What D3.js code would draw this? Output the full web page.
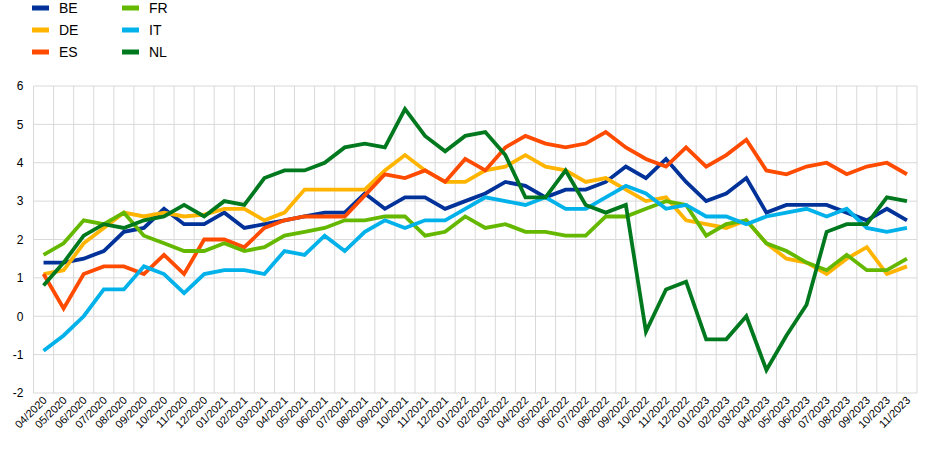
<!DOCTYPE html>
<html>
<head>
<meta charset="utf-8">
<script src="https://cdn.jsdelivr.net/npm/d3@7"></script>
<style>
html,body{margin:0;padding:0;background:#fff;}
svg{display:block;font-family:Arial,"Liberation Sans",sans-serif;}
</style>
</head>
<body>
<svg id="chart" width="943" height="449"></svg>
<script>
const months = ["04/2020","05/2020","06/2020","07/2020","08/2020","09/2020","10/2020","11/2020","12/2020",
"01/2021","02/2021","03/2021","04/2021","05/2021","06/2021","07/2021","08/2021","09/2021","10/2021","11/2021","12/2021",
"01/2022","02/2022","03/2022","04/2022","05/2022","06/2022","07/2022","08/2022","09/2022","10/2022","11/2022","12/2022",
"01/2023","02/2023","03/2023","04/2023","05/2023","06/2023","07/2023","08/2023","09/2023","10/2023","11/2023"];

const BE = [1.4,1.4,1.5,1.7,2.2,2.3,2.8,2.4,2.4,2.7,2.3,2.4,2.5,2.6,2.7,2.7,3.2,2.8,3.1,3.1,2.8,3.0,3.2,3.5,3.4,3.1,3.3,3.3,3.5,3.9,3.6,4.1,3.5,3.0,3.2,3.6,2.7,2.9,2.9,2.9,2.7,2.5,2.8,2.5];
const DE = [1.1,1.2,1.9,2.3,2.7,2.6,2.7,2.6,2.65,2.8,2.8,2.5,2.7,3.3,3.3,3.3,3.3,3.8,4.2,3.8,3.5,3.5,3.8,3.9,4.2,3.9,3.8,3.5,3.6,3.3,3.0,3.1,2.5,2.4,2.3,2.5,1.9,1.5,1.4,1.1,1.5,1.8,1.1,1.3];
const ES = [1.1,0.2,1.1,1.3,1.3,1.1,1.6,1.1,2.0,2.0,1.8,2.3,2.5,2.6,2.6,2.6,3.15,3.7,3.6,3.8,3.5,4.1,3.8,4.4,4.7,4.5,4.4,4.5,4.8,4.4,4.1,3.9,4.4,3.9,4.2,4.6,3.8,3.7,3.9,4.0,3.7,3.9,4.0,3.7];
const FR = [1.6,1.9,2.5,2.4,2.7,2.1,1.9,1.7,1.7,1.9,1.7,1.8,2.1,2.2,2.3,2.5,2.5,2.6,2.6,2.1,2.2,2.6,2.3,2.4,2.2,2.2,2.1,2.1,2.6,2.6,2.8,3.0,2.9,2.1,2.4,2.5,1.9,1.7,1.4,1.2,1.6,1.2,1.2,1.5];
const IT = [-0.9,-0.5,0.0,0.7,0.7,1.3,1.1,0.6,1.1,1.2,1.2,1.1,1.7,1.6,2.1,1.7,2.2,2.5,2.3,2.5,2.5,2.8,3.1,3.0,2.9,3.1,2.8,2.8,3.1,3.4,3.2,2.8,2.9,2.6,2.6,2.4,2.6,2.7,2.8,2.6,2.8,2.3,2.2,2.3];
const NL = [0.8,1.4,2.1,2.4,2.3,2.5,2.6,2.9,2.6,3.0,2.9,3.6,3.8,3.8,4.0,4.4,4.5,4.4,5.4,4.7,4.3,4.7,4.8,4.2,3.1,3.1,3.8,2.9,2.7,2.9,-0.4,0.7,0.9,-0.6,-0.6,0.0,-1.4,-0.5,0.3,2.2,2.4,2.4,3.1,3.0];

const seriesNames = ["BE","DE","ES","FR","IT","NL"];
const seriesColors = ["#003299","#FFB400","#FF4B00","#65B800","#00B1EA","#00781E"];
const yTicks = [-2,-1,0,1,2,3,4,5,6];

const series = [BE,DE,ES,FR,IT,NL].map((v,i)=>({name:seriesNames[i],color:seriesColors[i],values:v}));

const svg = d3.select("#chart");
const margin = {left:33.5, right:26, top:86, bottom:56};
const W = 943, H = 449;

const x = d3.scaleBand().domain(months).range([margin.left, W - margin.right]).paddingInner(0).paddingOuter(0);
const y = d3.scaleLinear().domain([-2,6]).range([H - margin.bottom, margin.top]);

// grid
const g = svg.append("g");
g.selectAll("line.h").data(yTicks).join("line")
  .attr("x1", margin.left).attr("x2", W - margin.right)
  .attr("y1", d=>y(d)).attr("y2", d=>y(d))
  .attr("stroke","#d9d9d9").attr("stroke-width",1);
const bounds = months.map(m=>x(m)).concat([x(months[months.length-1]) + x.bandwidth()]);
g.selectAll("line.v").data(bounds).join("line")
  .attr("x1", d=>d).attr("x2", d=>d)
  .attr("y1", y(6)).attr("y2", y(-2))
  .attr("stroke","#d9d9d9").attr("stroke-width",1);

// y axis labels
const yAxis = d3.axisLeft(y).tickValues(yTicks).tickSize(0).tickPadding(10).tickFormat(d=>String(d));
svg.append("g").attr("transform",`translate(${margin.left},0)`).call(yAxis)
  .call(a=>a.select(".domain").remove())
  .selectAll("text").attr("font-size",12).attr("fill","#000").attr("font-family","Arial, Liberation Sans, sans-serif");

// x axis labels
const xAxis = d3.axisBottom(x).tickSize(0).tickPadding(0);
const xa = svg.append("g").attr("transform",`translate(0,${H - margin.bottom})`).call(xAxis);
xa.select(".domain").remove();
xa.selectAll("text")
  .attr("font-size",11).attr("fill","#000").attr("font-family","Arial, Liberation Sans, sans-serif")
  .attr("text-anchor","end").attr("dy",0).attr("y",0)
  .attr("transform","translate(4,8) rotate(-45)");

// lines
const line = d3.line().x((d,i)=>x(months[i]) + x.bandwidth()/2).y(d=>y(d));
svg.append("g").selectAll("path").data(series).join("path")
  .attr("d", d=>line(d.values))
  .attr("fill","none").attr("stroke", d=>d.color)
  .attr("stroke-width",3.8).attr("stroke-linejoin","miter").attr("stroke-linecap","butt");

// legend
const lg = svg.append("g");
series.forEach((s,i)=>{
  const col = Math.floor(i/3), row = i%3;
  const lx = 32 + col*90, ly = 8 + row*22;
  lg.append("line").attr("x1",lx).attr("x2",lx+17).attr("y1",ly).attr("y2",ly)
    .attr("stroke",s.color).attr("stroke-width",5);
  lg.append("text").attr("x",lx+27).attr("y",ly).attr("dy","0.35em")
    .attr("font-size",14).attr("fill","#000").text(s.name);
});
</script>
</body>
</html>
